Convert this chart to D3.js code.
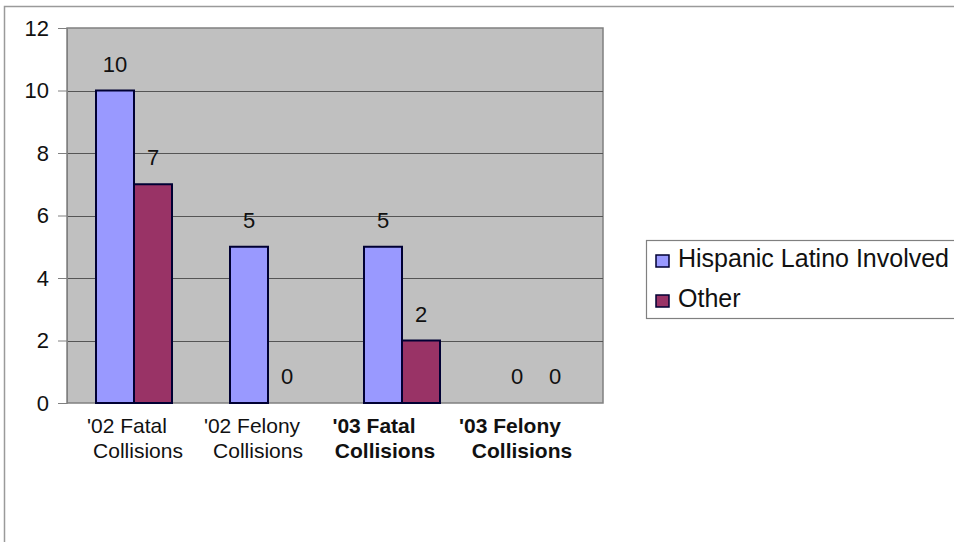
<!DOCTYPE html>
<html>
<head>
<meta charset="utf-8">
<script src="https://cdn.jsdelivr.net/npm/d3@7"></script>
<style>
  html, body { margin: 0; padding: 0; background: #fff; }
  svg { display: block; font-family: "Liberation Sans", Arial, sans-serif; }
</style>
</head>
<body>
<svg id="chart" width="954" height="542"></svg>
<script>
// Collision counts by year and type
const categories = [["'02 Fatal", "Collisions"], ["'02 Felony", "Collisions"], ["'03 Fatal", "Collisions"], ["'03 Felony", "Collisions"]];
const boldCategory = [false, false, true, true];
const seriesNames = ["Hispanic Latino Involved", "Other"];
const hispanicValues = [10, 5, 5, 0];
const otherValues = [7, 0, 2, 0];
const yTicks = [0, 2, 4, 6, 8, 10, 12];
const seriesColors = ["#9999ff", "#993366"];

const svg = d3.select("#chart");
const plot = { left: 67, top: 28, right: 603, bottom: 403 };

// outer chart frame
svg.append("path")
  .attr("d", "M4.5,542 L4.5,6.5 L954,6.5")
  .attr("fill", "none").attr("stroke", "#9a9a9a").attr("stroke-width", 1.5);

const x = d3.scaleBand().domain(d3.range(categories.length))
  .range([plot.left, plot.right]);
const y = d3.scaleLinear().domain([0, 12]).range([plot.bottom, plot.top]);
const barW = 38;

// plot background
svg.append("rect")
  .attr("x", plot.left).attr("y", plot.top)
  .attr("width", plot.right - plot.left).attr("height", plot.bottom - plot.top)
  .attr("fill", "#c0c0c0").attr("stroke", "#808080").attr("stroke-width", 1.5);

// gridlines
svg.append("g").selectAll("line").data(yTicks.filter(t => t > 0 && t < 12)).join("line")
  .attr("x1", plot.left).attr("x2", plot.right)
  .attr("y1", d => Math.round(y(d)) + 0.5).attr("y2", d => Math.round(y(d)) + 0.5)
  .attr("stroke", "#555").attr("stroke-width", 1);

// y axis
const yAxis = d3.axisLeft(y).tickValues(yTicks).tickSize(9).tickPadding(9);
const gy = svg.append("g").attr("transform", `translate(${plot.left},0)`).call(yAxis);
gy.select(".domain").attr("stroke", "#808080");
gy.selectAll(".tick line").attr("stroke", "#808080");
gy.selectAll(".tick text").attr("font-size", 22).attr("fill", "#111")
  .attr("font-family", "Liberation Sans, Arial, sans-serif");

// bars
const series = [hispanicValues, otherValues];
series.forEach((vals, s) => {
  const g = svg.append("g");
  g.selectAll("rect").data(vals).join("rect")
    .attr("x", (d, i) => x(i) + x.bandwidth() / 2 - barW + s * barW)
    .attr("y", d => y(d))
    .attr("width", barW)
    .attr("height", d => y(0) - y(d))
    .attr("fill", seriesColors[s])
    .attr("stroke", d => d > 0 ? "#000033" : "none")
    .attr("stroke-width", 2);
  g.selectAll("text").data(vals).join("text")
    .attr("x", (d, i) => x(i) + x.bandwidth() / 2 - barW / 2 + s * barW)
    .attr("y", d => y(d) - 19)
    .attr("text-anchor", "middle")
    .attr("font-size", 22).attr("fill", "#111")
    .text(d => d);
});

// category labels: each wrapped line is nudged left of the band centre
const lineShift = [[-7, 4], [-16, -10], [-28, -17], [-26, -14]];
const cat = svg.append("g");
categories.forEach((lines, i) => {
  const cx = x(i) + x.bandwidth() / 2;
  const t = cat.append("text")
    .attr("y", 433)
    .attr("text-anchor", "middle")
    .attr("font-size", 21)
    .attr("font-weight", boldCategory[i] ? "bold" : "normal")
    .attr("fill", "#111");
  lines.forEach((ln, k) => {
    t.append("tspan").attr("x", cx + lineShift[i][k]).attr("dy", k === 0 ? 0 : 25).text(ln);
  });
});

// legend
const lg = svg.append("g");
lg.append("rect").attr("x", 646.5).attr("y", 240.5).attr("width", 320).attr("height", 78)
  .attr("fill", "#fff").attr("stroke", "#808080").attr("stroke-width", 1.2);
seriesNames.forEach((name, i) => {
  const top = 255 + i * 40;
  lg.append("rect").attr("x", 656).attr("y", top).attr("width", 13).attr("height", 12)
    .attr("fill", seriesColors[i]).attr("stroke", "#000033").attr("stroke-width", 1.5);
  lg.append("text").attr("x", 678).attr("y", top + 12)
    .attr("font-size", 25).attr("fill", "#111").text(name);
});
</script>
</body>
</html>
